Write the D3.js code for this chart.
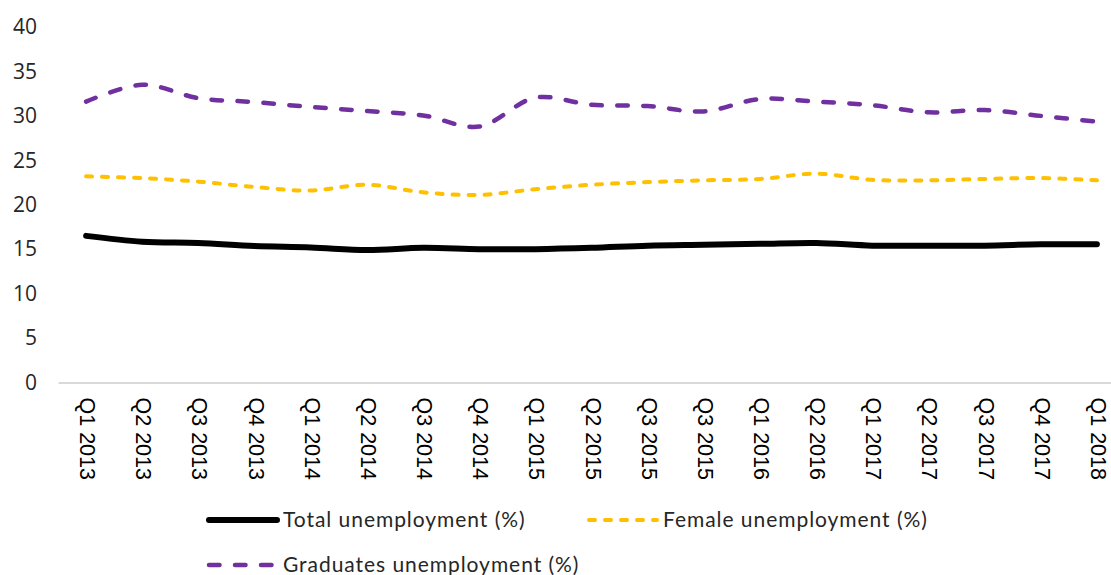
<!DOCTYPE html>
<html>
<head>
<meta charset="utf-8">
<script src="https://cdn.jsdelivr.net/npm/d3@7"></script>
<style>
  html, body { margin: 0; padding: 0; background: #fff; }
  svg { display: block; }
</style>
</head>
<body>
<svg id="chart" width="1111" height="575"></svg>
<script>
// Quarterly unemployment rates (%)
const quarters = ["Q1 2013", "Q2 2013", "Q3 2013", "Q4 2013", "Q1 2014", "Q2 2014", "Q3 2014", "Q4 2014",
  "Q1 2015", "Q2 2015", "Q3 2015", "Q3 2015 ", "Q1 2016", "Q2 2016", "Q1 2017", "Q2 2017", "Q3 2017", "Q4 2017", "Q1 2018"];
const totalUnemployment = [16.5, 15.85, 15.7, 15.35, 15.2, 14.9, 15.15, 15.0, 15.0, 15.15, 15.4, 15.5, 15.6, 15.7, 15.4, 15.4, 15.4, 15.55, 15.55];
const femaleUnemployment = [23.2, 23.0, 22.6, 22.0, 21.6, 22.25, 21.4, 21.1, 21.75, 22.25, 22.55, 22.75, 22.9, 23.5, 22.8, 22.75, 22.9, 23.0, 22.75];
const graduatesUnemployment = [31.6, 33.5, 32.0, 31.55, 31.0, 30.55, 30.05, 28.8, 32.05, 31.25, 31.1, 30.5, 31.9, 31.6, 31.2, 30.4, 30.65, 30.0, 29.35];
const yTicks = [0, 5, 10, 15, 20, 25, 30, 35, 40];
const seriesNames = ["Total unemployment (%)", "Female unemployment (%)", "Graduates unemployment (%)"];

const series = [
  { name: seriesNames[0], values: totalUnemployment, color: "#000000", width: 6, dash: null },
  { name: seriesNames[1], values: femaleUnemployment, color: "#FFC000", width: 4, dash: "6,10" },
  { name: seriesNames[2], values: graduatesUnemployment, color: "#7030A0", width: 4.5, dash: "10.5,15.5" }
];

const svg = d3.select("#chart");
const plot = { left: 58, right: 1125, top: 27, bottom: 382.5 };

const x = d3.scalePoint().domain(quarters).range([plot.left, plot.right]).padding(0.5);
const y = d3.scaleLinear().domain([0, 40]).range([plot.bottom, plot.top]);

// Y axis labels (no axis line)
const yAxis = svg.append("g").attr("transform", `translate(${plot.left},0)`)
  .call(d3.axisLeft(y).tickValues(yTicks).tickSize(0).tickPadding(21));
yAxis.select(".domain").remove();
yAxis.selectAll("text")
  .attr("font-family", "'Open Sans', sans-serif")
  .attr("font-size", 21)
  .attr("fill", "#262626");

// X axis: category line and rotated labels
const xAxis = svg.append("g").attr("transform", `translate(0,${plot.bottom})`)
  .call(d3.axisBottom(x).tickSize(0));
xAxis.attr("font-family", "'Liberation Sans', Arial, sans-serif");
xAxis.select(".domain").attr("stroke", "#d9d9d9").attr("stroke-width", 2);
xAxis.selectAll("text")
  .text(d => d.trim())
  .attr("font-family", "'Liberation Sans', Arial, sans-serif")
  .attr("font-size", 21.5)
  .attr("fill", "#000")
  .attr("text-anchor", "start")
  .attr("transform", "rotate(90)")
  .attr("x", 15)
  .attr("y", 0)
  .attr("dx", 0)
  .attr("dy", "0.3em");

// Series lines
const line = d3.line()
  .x((d, i) => x(quarters[i]))
  .y(d => y(d))
  .curve(d3.curveCatmullRom.alpha(0.5));

svg.append("g").selectAll("path")
  .data(series)
  .join("path")
  .attr("d", d => line(d.values))
  .attr("fill", "none")
  .attr("stroke", d => d.color)
  .attr("stroke-width", d => d.width)
  .attr("stroke-linecap", "round")
  .attr("stroke-linejoin", "round")
  .attr("stroke-dasharray", d => d.dash);

// Legend
const legendItems = [
  { s: series[0], x: 207, y: 520 },
  { s: series[1], x: 587, y: 520 },
  { s: series[2], x: 207, y: 565 }
];
const legend = svg.append("g");
legendItems.forEach(it => {
  legend.append("line")
    .attr("x1", it.x + 2).attr("x2", it.x + 70)
    .attr("y1", it.y).attr("y2", it.y)
    .attr("stroke", it.s.color)
    .attr("stroke-width", it.s.width)
    .attr("stroke-linecap", "round")
    .attr("stroke-dasharray", it.s.dash);
  legend.append("text")
    .attr("x", it.x + 76).attr("y", it.y)
    .attr("dy", "0.35em")
    .attr("font-family", "Lato, sans-serif")
    .attr("font-size", 21)
    .attr("letter-spacing", 0.95)
    .attr("fill", "#262626")
    .text(it.s.name);
});
</script>
</body>
</html>
